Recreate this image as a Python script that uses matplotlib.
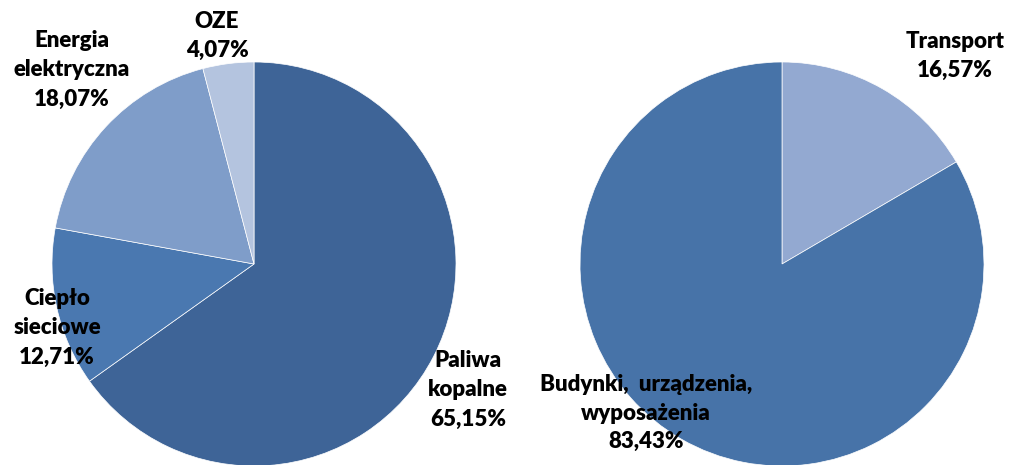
import matplotlib.pyplot as plt

# lewy wykres - nośniki energii
nosniki = ["Paliwa\nkopalne", "Ciepło\nsieciowe", "Energia\nelektryczna", "OZE"]
nosniki_proc = [65.15, 12.71, 18.07, 4.07]
nosniki_kolory = ["#3E6497", "#4A78B0", "#7F9DC9", "#B4C4DF"]

# prawy wykres - sektory
sektory = ["Transport", "Budynki,  urządzenia,\nwyposażenia"]
sektory_proc = [16.57, 83.43]
sektory_kolory = ["#93A9D1", "#4773A8"]

plt.rcParams['font.family'] = ['Lato', 'DejaVu Sans']

fig = plt.figure(figsize=(10.18, 4.65), dpi=100)
ax = fig.add_axes([0, 0, 1, 1])

R = 202
ax.pie(nosniki_proc, colors=nosniki_kolory, startangle=90, counterclock=False,
       center=(254, 465 - 264), radius=R, frame=True,
       wedgeprops=dict(edgecolor='white', linewidth=0.5))
ax.pie(sektory_proc, colors=sektory_kolory, startangle=90, counterclock=False,
       center=(782, 465 - 264), radius=R, frame=True,
       wedgeprops=dict(edgecolor='white', linewidth=0.5))
ax.set_xlim(0, 1018)
ax.set_ylim(0, 465)
ax.set_aspect('equal')
ax.axis('off')

def fmt(v):
    return f"{v:.2f}%".replace(".", ",")

# pozycje etykiet (piksele)
pos_l = [(468, 390), (57, 328), (72, 70), (217, 36)]
pos_r = [(955, 56), (646, 413)]

for name, v, (x, y) in zip(nosniki, nosniki_proc, pos_l):
    ax.text(x, 465 - y, name + "\n" + fmt(v), ha='center', va='center',
            fontsize=16, fontweight='heavy', linespacing=1.5)
for name, v, (x, y) in zip(sektory, sektory_proc, pos_r):
    ax.text(x, 465 - y, name + "\n" + fmt(v), ha='center', va='center',
            fontsize=16, fontweight='heavy', linespacing=1.45)

fig.savefig("out.png", dpi=100)
